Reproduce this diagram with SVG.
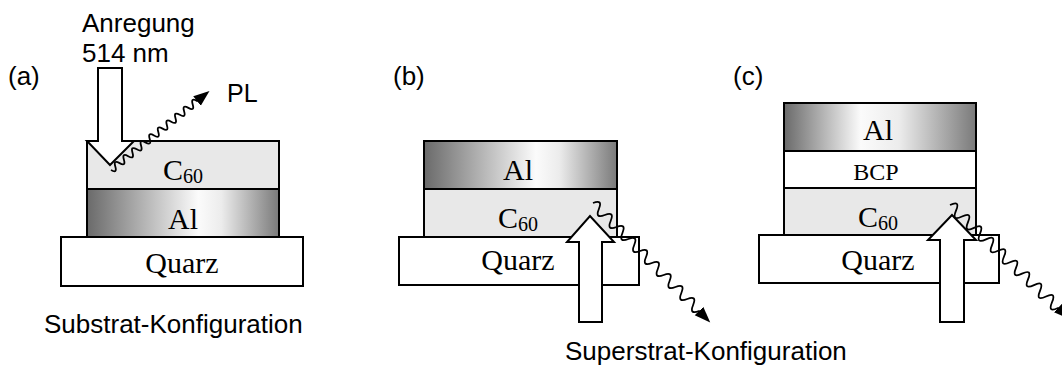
<svg xmlns="http://www.w3.org/2000/svg" width="1062" height="367" viewBox="0 0 1062 367">
<defs>
<linearGradient id="alGrad" x1="0" y1="0" x2="1" y2="0">
<stop offset="0" stop-color="#6a6a6a"/>
<stop offset="0.58" stop-color="#fbfbfb"/>
<stop offset="0.7" stop-color="#ececec"/>
<stop offset="1" stop-color="#7a7a7a"/>
</linearGradient>
<linearGradient id="alGradC" x1="0" y1="0" x2="1" y2="0">
<stop offset="0" stop-color="#6a6a6a"/>
<stop offset="0.4" stop-color="#fbfbfb"/>
<stop offset="0.6" stop-color="#ececec"/>
<stop offset="1" stop-color="#7a7a7a"/>
</linearGradient>
<marker id="head" markerUnits="userSpaceOnUse" markerWidth="17" markerHeight="13" refX="2" refY="6" orient="auto">
<path d="M0,0 L16,6 L0,12 Z" fill="#000"/>
</marker>
<style>
.layer{stroke:#000;stroke-width:2}
.c60{fill:#e8e8e8}
.al{fill:url(#alGrad)}
.alc{fill:url(#alGradC)}
.white{fill:#fff}
.beam{fill:#fff;stroke:#000;stroke-width:2;stroke-linejoin:miter}
.wave{fill:none;stroke:#000;stroke-width:1.8;marker-end:url(#head)}
.serif{font-family:"Liberation Serif","Times New Roman",serif;font-size:30px;fill:#000;text-anchor:middle}
.sans{font-family:"Liberation Sans",Arial,sans-serif;font-size:26px;fill:#000}
.sub{font-size:20px}
</style>
</defs>
<rect width="1062" height="367" fill="#fff"/>

<g id="panel-a">
<g id="a-c60"><rect class="layer c60" x="87" y="141" width="192" height="48"/><text class="serif" x="183" y="180">C<tspan class="sub" dy="3">60</tspan></text></g>
<g id="a-al"><rect class="layer al" x="87" y="189" width="192" height="48"/><text class="serif" x="183" y="229">Al</text></g>
<g id="a-quarz"><rect class="layer white" x="61" y="237" width="242" height="49"/><text class="serif" x="182" y="273">Quarz</text></g>
<text class="sans" x="8" y="85">(a)</text>
<text class="sans" x="82" y="32">Anregung</text>
<text class="sans" x="82" y="62">514 nm</text>
<text class="sans" x="227" y="102" style="font-size:25px">PL</text>
<text class="sans" x="44" y="333">Substrat-Konfiguration</text>
</g>

<g id="panel-b">
<g id="b-al"><rect class="layer al" x="424" y="141" width="193" height="48"/><text class="serif" x="518" y="180">Al</text></g>
<g id="b-c60"><rect class="layer c60" x="424" y="189" width="193" height="48"/><text class="serif" x="518" y="228">C<tspan class="sub" dy="3">60</tspan></text></g>
<g id="b-quarz"><rect class="layer white" x="399" y="237" width="240" height="48"/><text class="serif" x="518" y="270">Quarz</text></g>
<text class="sans" x="393" y="85">(b)</text>
</g>

<g id="panel-c">
<g id="c-al"><rect class="layer alc" x="784" y="103" width="192" height="48"/><text class="serif" x="878" y="140">Al</text></g>
<g id="c-bcp"><rect class="layer white" x="784" y="151" width="192" height="37"/><text class="serif" x="876" y="180" style="font-size:24px">BCP</text></g>
<g id="c-c60"><rect class="layer c60" x="784" y="188" width="192" height="47"/><text class="serif" x="878" y="227">C<tspan class="sub" dy="3">60</tspan></text></g>
<g id="c-quarz"><rect class="layer white" x="759" y="235" width="240" height="48"/><text class="serif" x="878" y="270">Quarz</text></g>
<text class="sans" x="733" y="85">(c)</text>
</g>

<text class="sans" x="565" y="360">Superstrat-Konfiguration</text>

<g id="connectors">
<polygon id="excite-a" class="beam" points="98,68 122,68 122,141 134,141 110,165 87,141 98,141"/>
<polygon id="excite-b" class="beam" points="579,322 602,322 602,242 614,242 590,216 567,242 579,242"/>
<polygon id="excite-c" class="beam" points="940,322 964,322 964,240 976,240 952,215 928,240 940,240"/>
<path id="pl-a" class="wave" d="M111,170 q6.53,3.74 4.3,-3.45 t4.3,-3.45 t4.3,-3.45 t4.3,-3.45 t4.3,-3.45 t4.3,-3.45 t4.3,-3.45 t4.3,-3.45 t4.3,-3.45 t4.3,-3.45 t4.3,-3.45 t4.3,-3.45 t4.3,-3.45 t4.3,-3.45 t4.3,-3.45 t4.3,-3.45 t4.3,-3.45 t4.3,-3.45 t4.3,-3.45 t4.3,-3.45 l1.56,-1.25"/>
<path id="pl-b" class="wave" d="M593,203 q10.08,-4.01 5.89,6 t5.89,6 t5.89,6 t5.89,6 t5.89,6 t5.89,6 t5.89,6 t5.89,6 t5.89,6 t5.89,6 t5.89,6 t5.89,6 t5.89,6 t5.89,6 t5.89,6 t5.89,6 t5.89,6 t5.89,6 l1.4,1.43"/>
<path id="pl-c" class="wave" d="M950,205 q10.6,-5.11 6,5.72 t6,5.72 t6,5.72 t6,5.72 t6,5.72 t6,5.72 t6,5.72 t6,5.72 t6,5.72 t6,5.72 t6,5.72 t6,5.72 t6,5.72 t6,5.72 t6,5.72 t6,5.72 t6,5.72 t6,5.72 l1.45,1.38"/>
</g>
</svg>
